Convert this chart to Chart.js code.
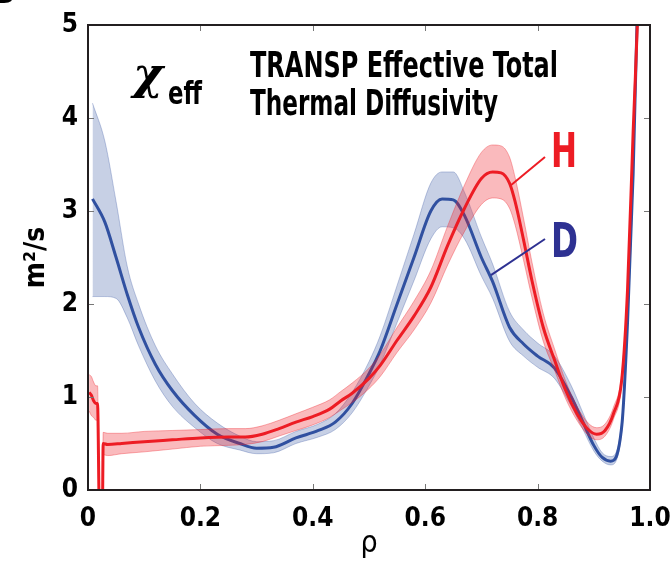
<!DOCTYPE html>
<html>
<head>
<meta charset="utf-8">
<script src="https://cdn.jsdelivr.net/npm/chart.js@4.4.1/dist/chart.umd.min.js"></script>
<style>body{margin:0;background:#fff}</style>
</head>
<body>
<canvas id="grafico" width="672" height="562"></canvas>
<script>
// Difusividad térmica efectiva total (TRANSP), m2/s frente a rho
// Deuterio (D)
var rhoD = [0.008,0.03,0.05,0.07,0.09,0.12,0.15,0.19,0.23,0.27,0.30,0.33,0.37,0.41,0.44,0.47,0.50,0.52,0.55,0.58,0.61,0.63,0.65,0.67,0.70,0.72,0.75,0.775,0.80,0.83,0.86,0.88,0.90,0.915,0.93,0.95,0.96,0.97,0.98];
var chiD = [3.13,2.88,2.50,2.10,1.75,1.35,1.07,0.80,0.60,0.50,0.45,0.46,0.56,0.64,0.73,0.93,1.25,1.50,2.00,2.50,3.00,3.13,3.12,2.95,2.50,2.24,1.75,1.57,1.44,1.31,1.00,0.74,0.48,0.35,0.31,0.70,1.80,3.40,5.80];
var chiDmin = [2.08,2.08,2.06,1.85,1.55,1.17,0.90,0.67,0.50,0.43,0.39,0.40,0.50,0.57,0.65,0.83,1.12,1.35,1.80,2.25,2.70,2.83,2.82,2.70,2.30,2.06,1.60,1.44,1.32,1.20,0.90,0.66,0.42,0.31,0.27,0.64,1.75,3.35,5.75];
var chiDmax = [4.16,3.75,3.10,2.40,2.00,1.55,1.25,0.93,0.72,0.58,0.52,0.53,0.63,0.71,0.82,1.05,1.38,1.66,2.20,2.75,3.30,3.42,3.42,3.20,2.72,2.43,1.92,1.72,1.58,1.44,1.12,0.84,0.56,0.40,0.36,0.76,1.85,3.45,5.85];

// Hidrógeno (H)
var rhoH = [0.002,0.006,0.010,0.014,0.017,0.0205,0.0255,0.027,0.035,0.06,0.10,0.15,0.20,0.25,0.28,0.31,0.34,0.37,0.40,0.43,0.45,0.47,0.50,0.52,0.55,0.58,0.61,0.64,0.67,0.70,0.72,0.735,0.75,0.76,0.775,0.79,0.81,0.83,0.85,0.87,0.89,0.905,0.92,0.935,0.95,0.96,0.97,0.98,0.985];
var chiH = [1.05,1.02,0.96,0.93,0.93,-0.3,-0.3,0.50,0.49,0.50,0.52,0.54,0.56,0.57,0.57,0.60,0.66,0.73,0.79,0.87,0.96,1.04,1.20,1.34,1.61,1.87,2.18,2.63,3.03,3.35,3.42,3.41,3.30,3.10,2.69,2.25,1.75,1.40,1.07,0.82,0.65,0.60,0.64,0.82,1.20,2.15,3.85,5.40,6.50];
var chiHmin = [0.85,0.80,0.78,0.75,0.75,-0.3,-0.3,0.38,0.37,0.39,0.41,0.44,0.47,0.48,0.49,0.52,0.58,0.64,0.70,0.78,0.86,0.94,1.09,1.22,1.48,1.72,2.01,2.42,2.78,3.07,3.14,3.13,3.03,2.85,2.47,2.07,1.60,1.29,0.98,0.75,0.59,0.54,0.58,0.76,1.14,2.10,3.80,5.35,6.45];
var chiHmax = [1.24,1.22,1.16,1.12,1.12,-0.3,-0.3,0.62,0.61,0.61,0.63,0.64,0.65,0.66,0.66,0.69,0.75,0.82,0.89,0.97,1.06,1.15,1.31,1.46,1.75,2.03,2.36,2.84,3.28,3.63,3.71,3.70,3.58,3.36,2.92,2.45,1.90,1.52,1.17,0.90,0.72,0.67,0.71,0.89,1.27,2.20,3.90,5.45,6.55];

// Marcas de los ejes
var ticksX = [0, 0.2, 0.4, 0.6, 0.8, 1.0];
var ticksY = [0, 1, 2, 3, 4, 5];

var fuente = "'Liberation Sans Narrow', 'DejaVu Sans Condensed', 'Liberation Sans', Arial, sans-serif";

function puntos(xs, ys) {
  return xs.map(function(x, i) { return {x: x, y: ys[i]}; });
}

function texto(c, t, font, x, y, ancho, color) {
  c.save();
  c.font = font;
  c.fillStyle = color;
  c.textAlign = 'left';
  c.textBaseline = 'alphabetic';
  var w = c.measureText(t).width;
  c.translate(x, y);
  if (ancho) c.scale(ancho / w, 1);
  c.fillText(t, 0, 0);
  c.restore();
}

function linea(c, x1, y1, x2, y2) {
  c.beginPath(); c.moveTo(x1, y1); c.lineTo(x2, y2); c.stroke();
}

// Plugin para marcas internas, marco y textos
var anotaciones = {
  id: 'anotaciones',
  afterDraw: function(chart) {
    var c = chart.ctx, a = chart.chartArea, sx = chart.scales.x, sy = chart.scales.y;
    c.save();
    c.strokeStyle = '#777';
    c.lineWidth = 1;
    ticksX.forEach(function(v) {
      var p = Math.round(sx.getPixelForValue(v)) + 0.5;
      linea(c, p, a.bottom, p, a.bottom - 6);
      linea(c, p, a.top, p, a.top + 6);
    });
    ticksY.forEach(function(v) {
      var p = Math.round(sy.getPixelForValue(v)) + 0.5;
      linea(c, a.left, p, a.left + 6, p);
      linea(c, a.right, p, a.right - 6, p);
    });
    c.strokeStyle = '#231f20';
    c.lineWidth = 2;
    c.strokeRect(a.left, a.top, a.right - a.left, a.bottom - a.top);

    // etiquetas
    texto(c, 'B', 'bold 34px ' + fuente, -8, 3, null, '#000');
    texto(c, 'χ', "bold italic 44px 'DejaVu Serif', serif", 133, 89, 30, '#000');
    texto(c, 'eff', 'bold 32px ' + fuente, 168, 104, 34, '#000');
    texto(c, 'TRANSP Effective Total', 'bold 35px ' + fuente, 250, 77, 308, '#000');
    texto(c, 'Thermal Diffusivity', 'bold 35px ' + fuente, 250, 115, 248, '#000');
    texto(c, 'H', 'bold 48px ' + fuente, 551, 167, 26, '#ed1c24');
    texto(c, 'D', 'bold 48px ' + fuente, 551, 257, 27, '#2e3192');

    c.lineWidth = 2;
    c.strokeStyle = '#ed1c24';
    linea(c, 545, 157, sx.getPixelForValue(0.753), sy.getPixelForValue(3.28));
    c.strokeStyle = '#2e3192';
    linea(c, 545, 239, sx.getPixelForValue(0.717), sy.getPixelForValue(2.31));
    c.restore();
  }
};

var ctx = document.getElementById('grafico').getContext('2d');

var grafico = new Chart(ctx, {
  type: 'line',
  data: {
    datasets: [
      { label: 'H', data: puntos(rhoH, chiH), borderColor: '#ed1c24', borderWidth: 3, pointRadius: 0, fill: false },
      { label: 'H max', data: puntos(rhoH, chiHmax), borderColor: 'rgba(237,28,36,0.35)', borderWidth: 1, pointRadius: 0,
        backgroundColor: 'rgba(237,28,36,0.30)', fill: 2 },
      { label: 'H min', data: puntos(rhoH, chiHmin), borderColor: 'rgba(237,28,36,0.35)', borderWidth: 1, pointRadius: 0, fill: false },
      { label: 'D', data: puntos(rhoD, chiD), borderColor: '#3050a0', borderWidth: 3, pointRadius: 0, fill: false },
      { label: 'D max', data: puntos(rhoD, chiDmax), borderColor: 'rgba(49,80,160,0.30)', borderWidth: 1, pointRadius: 0,
        backgroundColor: 'rgba(49,80,160,0.27)', fill: 5 },
      { label: 'D min', data: puntos(rhoD, chiDmin), borderColor: 'rgba(49,80,160,0.30)', borderWidth: 1, pointRadius: 0, fill: false }
    ]
  },
  options: {
    responsive: false,
    animation: false,
    layout: { padding: { top: 25, right: 22, left: 0, bottom: 0 } },
    elements: { line: { cubicInterpolationMode: 'monotone' } },
    plugins: {
      legend: { display: false },
      tooltip: { enabled: false }
    },
    scales: {
      x: {
        type: 'linear',
        min: 0, max: 1,
        afterFit: function(s) { s.height = 72; },
        afterBuildTicks: function(s) { s.ticks = ticksX.map(function(v) { return {value: v}; }); },
        grid: { display: false, tickLength: 13 },
        border: { display: false },
        ticks: {
          padding: 1,
          color: '#000',
          maxRotation: 0,
          font: { family: fuente, size: 26, weight: 'bold' },
          callback: function(v) { return v === 0 ? '0' : v.toFixed(1); }
        },
        title: { display: true, text: 'ρ', color: '#000', padding: { top: 0, bottom: 0 },
          font: { family: fuente, size: 30 } }
      },
      y: {
        min: 0, max: 5,
        afterFit: function(s) { s.width = 88; },
        afterBuildTicks: function(s) { s.ticks = ticksY.map(function(v) { return {value: v}; }); },
        grid: { display: false, tickLength: 8 },
        border: { display: false },
        ticks: {
          padding: 2,
          color: '#000',
          font: { family: fuente, size: 26, weight: 'bold' }
        },
        title: { display: true, text: 'm²/s', color: '#000', padding: { top: 20, bottom: 0 },
          font: { family: fuente, size: 28, weight: 'bold' } }
      }
    }
  },
  plugins: [anotaciones]
});
</script>
</body>
</html>
